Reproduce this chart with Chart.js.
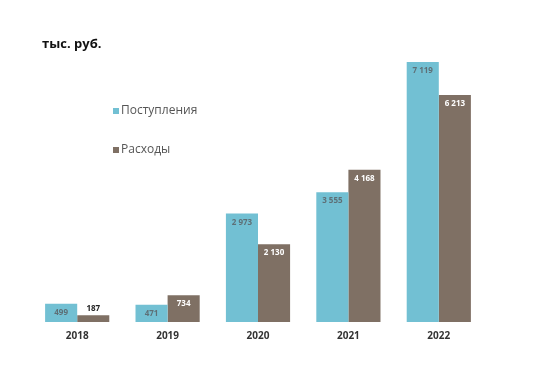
<!DOCTYPE html>
<html>
<head>
<meta charset="utf-8">
<script src="https://cdn.jsdelivr.net/npm/chart.js@4/dist/chart.umd.min.js"></script>
<style>
  body { margin: 0; background: #fff; }
  #wrap { position: relative; width: 540px; height: 373px; }
</style>
</head>
<body>
<div id="wrap"><canvas id="chart" width="540" height="373"></canvas></div>
<script>
var years = ["2018", "2019", "2020", "2021", "2022"];
var income = [499, 471, 2973, 3555, 7119];
var expenses = [187, 734, 2130, 4168, 6213];
var seriesNames = ["Поступления", "Расходы"];
var unitLabel = "тыс. руб.";

var blue = 'rgb(114, 192, 211)';
var brown = 'rgb(127, 112, 100)';
var fontName = '"Open Sans", sans-serif';

function fmt(v) {
    return String(v).replace(/\B(?=(\d{3})+(?!\d))/g, ' ');
}

// value labels inside the top of each bar, legend and unit title
var extras = {
    id: 'extras',
    afterDatasetsDraw: function(chart) {
        var ctx = chart.ctx;
        ctx.save();
        ctx.textAlign = 'center';
        chart.data.datasets.forEach(function(ds, di) {
            var meta = chart.getDatasetMeta(di);
            meta.data.forEach(function(bar, i) {
                var v = ds.data[i];
                var h = bar.base - bar.y;
                ctx.font = 'bold 8px ' + fontName;
                if (h < 12) {
                    ctx.fillStyle = '#222';
                    ctx.textBaseline = 'bottom';
                    ctx.fillText(fmt(v), bar.x, bar.y - 2);
                } else {
                    ctx.fillStyle = di === 0 ? '#5e6f76' : '#ffffff';
                    ctx.textBaseline = 'middle';
                    ctx.fillText(fmt(v), bar.x, bar.y + 9);
                }
            });
        });

        // legend
        ctx.textAlign = 'left';
        ctx.textBaseline = 'middle';
        ctx.font = '12px ' + fontName;
        var ly = [111, 150];
        chart.data.datasets.forEach(function(ds, di) {
            ctx.fillStyle = ds.backgroundColor;
            ctx.fillRect(113, ly[di] - 3, 6, 6);
            ctx.fillStyle = '#555';
            ctx.fillText(ds.label, 121, ly[di]);
        });

        // unit title
        ctx.font = 'bold 13px ' + fontName;
        ctx.fillStyle = '#111';
        ctx.fillText(unitLabel, 42, 44);
        ctx.restore();
    }
};

var canvas = document.getElementById("chart").getContext('2d');
var myChart = new Chart(canvas, {
    type: 'bar',
    data: {
        labels: years,
        datasets: [{
            label: seriesNames[0],
            data: income,
            backgroundColor: blue,
            categoryPercentage: 0.71,
            barPercentage: 1.0
        }, {
            label: seriesNames[1],
            data: expenses,
            backgroundColor: brown,
            categoryPercentage: 0.71,
            barPercentage: 1.0
        }]
    },
    options: {
        responsive: false,
        animation: false,
        layout: { padding: { left: 32, right: 56, top: 62, bottom: 23 } },
        plugins: {
            legend: { display: false },
            tooltip: { enabled: false }
        },
        scales: {
            x: {
                grid: { display: false, drawTicks: false },
                border: { display: false },
                ticks: {
                    padding: 8,
                    color: '#333',
                    font: { family: fontName, size: 10, weight: 'bold' }
                }
            },
            y: {
                display: false,
                min: 0,
                max: 7119
            }
        }
    },
    plugins: [extras]
});
</script>
</body>
</html>
